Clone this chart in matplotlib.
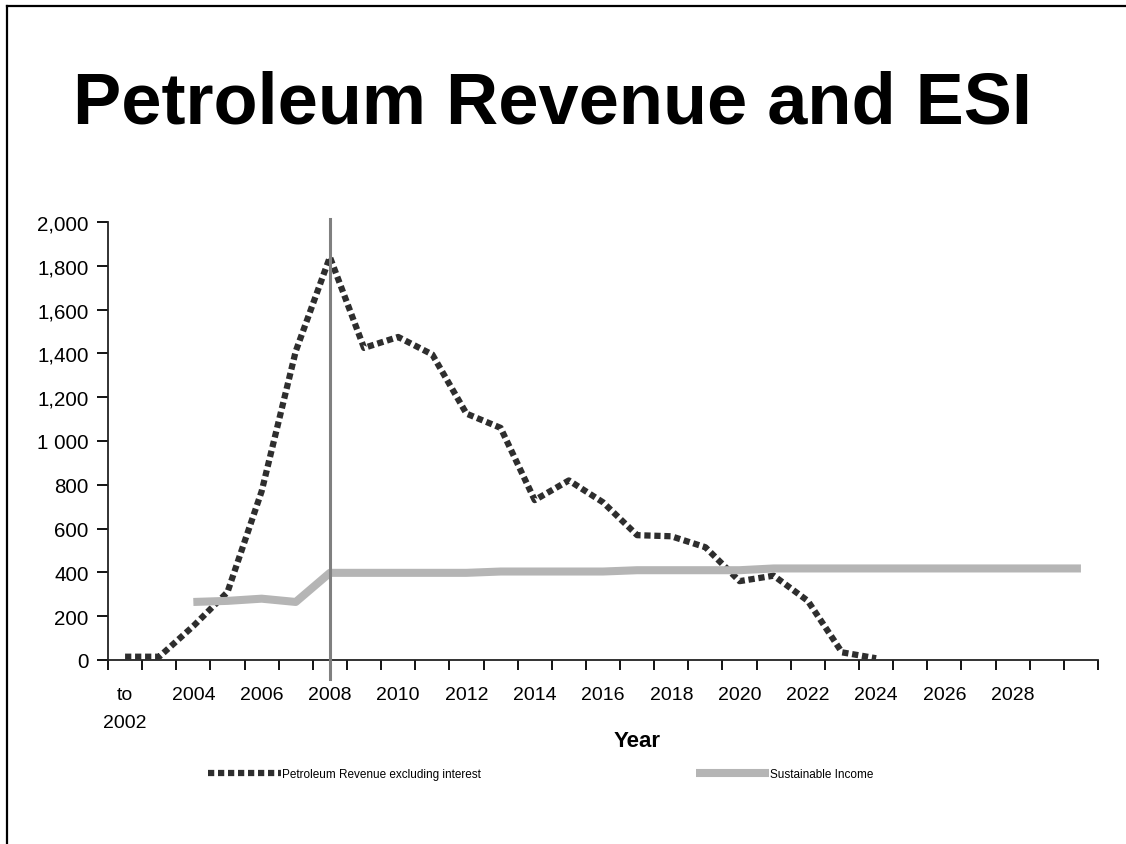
import matplotlib
matplotlib.use("Agg")
import matplotlib.pyplot as plt
import numpy as np
from matplotlib.lines import Line2D

plt.rcParams['font.family'] = ['Liberation Sans', 'DejaVu Sans']

# categories on the x axis (one per year, first one is "to 2002")
years = ["to\n2002"] + [str(y) for y in range(2003, 2031)]
tick_every = 2
last_labelled = "2028"

# Petroleum Revenue excluding interest, 2002 .. 2024
petroleum = [15, 15, 155, 310, 770, 1410, 1840, 1425, 1475, 1395, 1125, 1060,
             730, 820, 720, 570, 565, 515, 360, 385, 270, 35, 8]
# Sustainable Income (ESI), 2004 .. 2030
sustainable = [265, 270, 280, 265, 398, 398, 398, 398, 398, 404, 404, 404, 404,
               410, 410, 410, 410, 418, 418, 418, 418, 418, 418, 418, 418, 418, 418]
sustainable_start = 2  # index of 2004
marker_year = 6        # index of 2008

yticks = [0, 200, 400, 600, 800, 1000, 1200, 1400, 1600, 1800, 2000]
ytick_labels = ["0", "200", "400", "600", "800", "1 000", "1,200", "1,400",
                "1,600", "1,800", "2,000"]

W, H = 1126, 845
fig = plt.figure(figsize=(W / 100, H / 100), dpi=100)
ax = fig.add_axes([108 / W, 1 - 661 / H, (1098 - 108) / W, (661 - 223) / H])

x_pet = np.arange(len(petroleum))
x_sus = np.arange(len(sustainable)) + sustainable_start

ax.plot(x_pet, petroleum, color="#2e2e2e", lw=4.5, dashes=(1.0, 0.6),
        dash_capstyle="butt", solid_joinstyle="miter", zorder=3,
        label="Petroleum Revenue excluding interest")
ax.plot(x_sus, sustainable, color="#b5b5b5", lw=5.8, solid_capstyle="butt",
        zorder=4, label="Sustainable Income")
ax.axvline(marker_year, ymin=-0.043, ymax=1.006, color="#808080", lw=2.2,
           clip_on=False, zorder=5)

ax.set_xlim(-0.5, len(years) - 0.5)
ax.set_ylim(0, 2000)

# ticks on the category borders, labels in the middle of each category
ax.set_xticks(np.arange(len(years) + 1) - 0.5)
ax.set_xticklabels([])
lab_pos = [i for i in range(0, len(years), tick_every) if i <= years.index(last_labelled)]
ax.set_xticks(lab_pos, minor=True)
ax.set_xticklabels([years[i] for i in lab_pos], minor=True)
ax.tick_params(axis="x", which="minor", length=0, pad=19, labelsize=14)
ax.tick_params(axis="x", which="major", length=7, width=1.3, direction="out")

ax.set_yticks(yticks)
ax.set_yticklabels(ytick_labels)
ax.tick_params(axis="y", length=8, width=1.3, direction="out", pad=6, labelsize=14.8)

for s in ["top", "right"]:
    ax.spines[s].set_visible(False)
for s in ["left", "bottom"]:
    ax.spines[s].set_linewidth(1.3)
    ax.spines[s].set_color("#222222")

fig.text(73 / W, 1 - 124 / H, "Petroleum Revenue and ESI", fontsize=51.9,
         fontweight="bold", ha="left", va="baseline")
fig.text(637 / W, 1 - 747 / H, "Year", fontsize=16, fontweight="bold",
         ha="center", va="baseline")

leg = ax.legend(loc="center left", bbox_to_anchor=(208 / W, 1 - 775 / H),
                bbox_transform=fig.transFigure, ncol=2, frameon=False,
                fontsize=8.5, handlelength=6.2, handletextpad=0.1,
                columnspacing=18.2, borderpad=0, borderaxespad=0)

# slide frame (left and top edges)
fig.add_artist(Line2D([7 / W, 7 / W], [0, 1 - 7 / H], color="black", lw=1.6))
fig.add_artist(Line2D([7 / W, 1], [1 - 7 / H, 1 - 7 / H], color="black", lw=1.6))

# the two-line first label needs a wider line gap
fig.canvas.draw()
for t in ax.get_xticklabels(minor=True):
    t.set_linespacing(1.85)

fig.savefig("out.png", dpi=100)
